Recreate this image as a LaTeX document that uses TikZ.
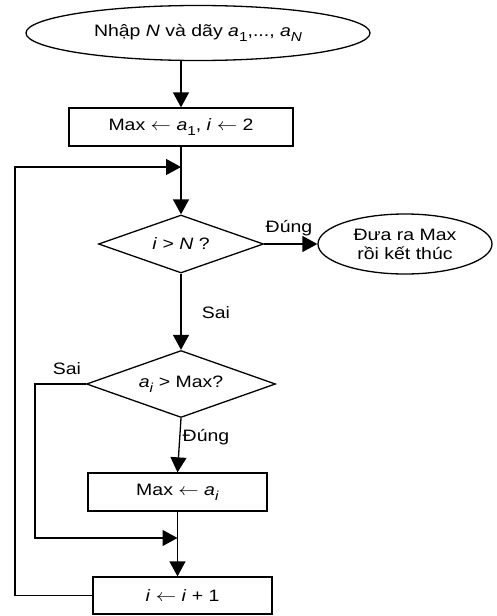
\documentclass[tikz,border=0pt]{standalone}
\usepackage{fontspec}
\usepackage{graphicx}
\setmainfont{Liberation Sans}
\usetikzlibrary{shapes.geometric,arrows.meta}
\newcommand\lowsub[1]{\raisebox{-0.6ex}{\fontsize{13}{13}\selectfont #1}}
\newcommand\hs[1]{\scalebox{1.18}[1]{#1}}
\begin{document}
\begin{tikzpicture}[x=1pt,y=-1pt,
  every node/.style={font=\fontsize{16.5}{19}\selectfont},
  line/.style={line width=1.3pt},
  arr/.style={line width=1.3pt,-{Triangle[length=15pt,width=16pt]}},
  box/.style={draw,line width=1.3pt,rectangle,inner sep=0pt},
  term/.style={draw,line width=1.3pt,ellipse,inner sep=0pt,align=center},
  dec/.style={draw,line width=1.3pt,diamond,inner sep=0pt,shape aspect=2.8},
  lbl/.style={inner sep=0pt}]
\useasboundingbox (0,0) rectangle (496,616);
\node[term,minimum width=344pt,minimum height=55pt] (start) at (198,33) {\hs{Nhập \textit{N} và dãy \textit{a}\lowsub{1},..., \textit{a}\lowsub{\textit{N}}}};
\node[box,minimum width=224pt,minimum height=38pt] (init) at (181,127) {\hs{Max $\leftarrow$ \textit{a}\lowsub{1}, \textit{i} $\leftarrow$ 2}};
\coordinate (j1) at (181,167);
\node[dec,minimum width=165pt,minimum height=58pt] (cond1) at (181,244) {\hs{\textit{i} > \textit{N} ?}};
\node[term,minimum width=174pt,minimum height=60pt] (stop) at (405,244) {\hs{Đưa ra Max}\\\hs{rồi kết thúc}};
\node[dec,minimum width=189pt,minimum height=67pt] (cond2) at (181,384) {\hs{\textit{a}\lowsub{\textit{i}} > Max?}};
\node[box,minimum width=179pt,minimum height=38pt] (upd) at (177.5,492) {\hs{Max $\leftarrow$ \textit{a}\lowsub{\textit{i}}}};
\coordinate (j2) at (177.5,538);
\node[box,minimum width=179pt,minimum height=37pt] (inc) at (182.5,595.5) {\hs{\textit{i} $\leftarrow$ \textit{i} + 1}};
\coordinate (sL) at (35,538);
\coordinate (lL) at (15,167);
\node[lbl] (l1) at (289,228) {\hs{Đúng}};
\node[lbl] (l2) at (216,313) {\hs{Sai}};
\node[lbl] (l3) at (67,369) {\hs{Sai}};
\node[lbl] (l4) at (206,437) {\hs{Đúng}};
\draw[arr] (init.north |- start.south) -- (init.north);
\draw[line] (init.south) -- (j1);
\draw[arr] (j1) -- (cond1.north);
\draw[arr] (cond1.east) -- (stop.west);
\draw[arr] (cond1.south) -- (cond2.north);
\draw[arr] (cond2.west) -| (sL) -- (j2);
\draw[arr] (cond2.south) -- (upd.north);
\draw[line] (upd.south) -- (j2);
\draw[arr] (j2) -- (upd.south |- inc.north);
\draw[arr] (inc.west) -| (lL) -- (j1);
\end{tikzpicture}
\end{document}
